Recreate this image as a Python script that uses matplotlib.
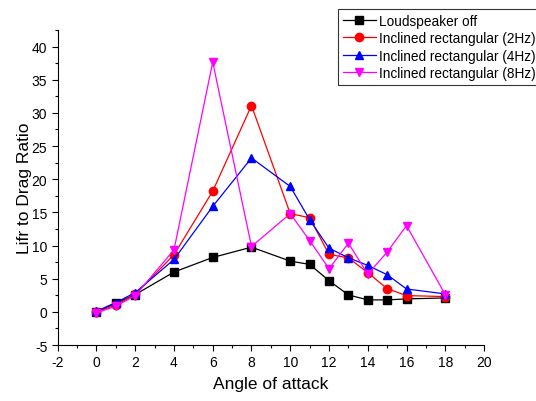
import matplotlib
matplotlib.use("Agg")
import matplotlib.pyplot as plt
from matplotlib.ticker import MultipleLocator

plt.rcParams['font.family'] = ['Liberation Sans', 'DejaVu Sans']
plt.rcParams['axes.unicode_minus'] = False

angles = [0, 1, 2, 4, 6, 8, 10, 11, 12, 13, 14, 15, 16, 18]
off = [0.0, 1.3, 2.6, 6.0, 8.2, 9.75, 7.65, 7.15, 4.7, 2.55, 1.8, 1.8, 1.95, 2.1]
hz2 = [0.0, 1.0, 2.65, 8.6, 18.2, 31.1, 14.8, 14.2, 8.65, 8.15, 5.9, 3.5, 2.45, 2.3]
hz4 = [0.1, 1.4, 2.9, 7.9, 15.9, 23.2, 18.9, 13.9, 9.6, 8.15, 7.0, 5.6, 3.45, 2.7]
hz8 = [-0.15, 0.85, 2.45, 9.35, 37.65, 9.85, 14.8, 10.75, 6.5, 10.35, 5.7, 9.0, 13.0, 2.6]

labels = ["Loudspeaker off", "Inclined rectangular (2Hz)",
          "Inclined rectangular (4Hz)", "Inclined rectangular (8Hz)"]
colors = ["black", "#ff0000", "#0000ff", "#ff00ff"]
markers = ["s", "o", "^", "v"]

fig = plt.figure(figsize=(5.36, 4.02), dpi=100)
ax = fig.add_axes([0.1077, 0.1393, 0.7953, 0.7837])

for ys, lab, c, m in zip([off, hz2, hz4, hz8], labels, colors, markers):
    ms = 5.2 if m == "s" else 6
    ax.plot(angles, ys, color=c, marker=m, markersize=ms, linewidth=0.9,
            markeredgecolor=c, markerfacecolor=c, label=lab)

ax.set_xlim(-2, 20)
ax.set_ylim(-5, 42.5)
ax.xaxis.set_major_locator(MultipleLocator(2))
ax.xaxis.set_minor_locator(MultipleLocator(1))
ax.yaxis.set_major_locator(MultipleLocator(5))
ax.yaxis.set_minor_locator(MultipleLocator(2.5))
ax.spines['top'].set_visible(False)
ax.spines['right'].set_visible(False)
ax.tick_params(which='major', direction='out', length=4, width=0.8, labelsize=10)
ax.tick_params(which='minor', direction='out', length=2.5, width=0.8)

ax.set_xlabel("Angle of attack", fontsize=12.5, labelpad=5)
ax.set_ylabel("Lifr to Drag Ratio", fontsize=12.5, labelpad=0)

leg = fig.legend(loc='upper left', bbox_to_anchor=(0.631, 0.975), fontsize=9.8,
                 frameon=True, fancybox=False, edgecolor='black',
                 handlelength=2.4, handletextpad=0.25, borderpad=0.35,
                 labelspacing=0.25, borderaxespad=0)
leg.get_frame().set_linewidth(0.8)

fig.savefig("out.png", dpi=100)
